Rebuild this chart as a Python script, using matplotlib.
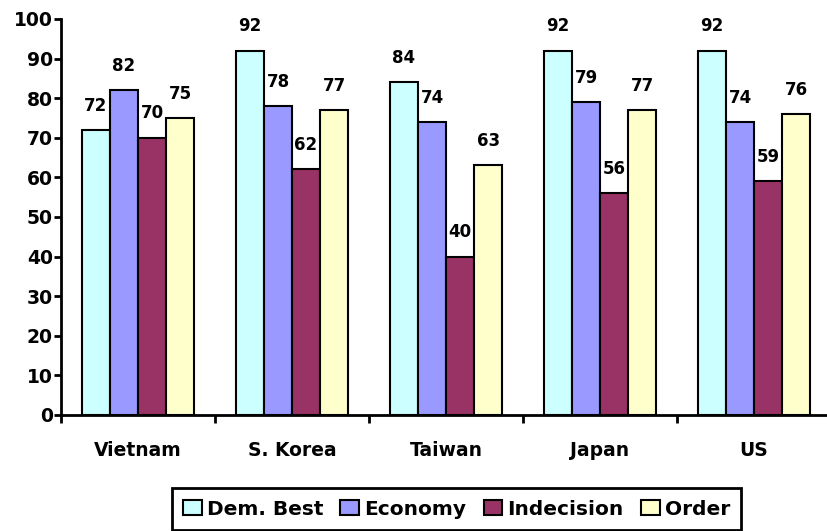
import matplotlib
matplotlib.use("Agg")
import matplotlib.pyplot as plt
import numpy as np

countries = ["Vietnam", "S. Korea", "Taiwan", "Japan", "US"]
series = ["Dem. Best", "Economy", "Indecision", "Order"]
dem_best = [72, 92, 84, 92, 92]
economy = [82, 78, 74, 79, 74]
indecision = [70, 62, 40, 56, 59]
order = [75, 77, 63, 77, 76]
colors = ["#CCFFFF", "#9999FF", "#993366", "#FFFFCC"]

plt.rcParams["font.family"] = ["DejaVu Sans"]
plt.rcParams["font.weight"] = "bold"

fig = plt.figure(figsize=(8.28, 5.31), dpi=100)
ax = fig.add_axes([0.0737, 0.2185, 0.930, 0.7458])

x = np.arange(len(countries))
w = 0.182
for i, (vals, c, name) in enumerate(zip([dem_best, economy, indecision, order], colors, series)):
    pos = x + (i - 1.5) * w
    ax.bar(pos, vals, w, color=c, edgecolor="black", linewidth=1.5, label=name)
    for p, v in zip(pos, vals):
        ax.annotate(str(v), (p, v), xytext=(0, 11), textcoords="offset points",
                    ha="center", va="bottom", fontsize=12, fontweight="bold")

ax.set_xlim(-0.5, 4.5)
ax.set_ylim(0, 100)
ax.set_yticks(range(0, 101, 10))
ax.tick_params(axis="y", labelsize=13.5, width=2, length=5, direction="out", pad=1)
ax.set_xticks(np.arange(-0.5, 4.5, 1.0))
ax.set_xticklabels([])
ax.set_xticks(x, minor=True)
ax.set_xticklabels(countries, minor=True)
ax.tick_params(axis="x", which="major", length=6, width=2, direction="out")
ax.tick_params(axis="x", which="minor", length=0, pad=19, labelsize=13.5)
for lab in ax.get_yticklabels() + ax.get_xticklabels(minor=True):
    lab.set_fontweight("bold")

for s in ["top", "right"]:
    ax.spines[s].set_visible(False)
ax.spines["left"].set_linewidth(2)
ax.spines["bottom"].set_linewidth(2)

leg = fig.legend(loc="center", bbox_to_anchor=(0.5513, 0.0414), ncol=4, frameon=True,
                 fancybox=False, edgecolor="black", framealpha=1, fontsize=14.5,
                 handlelength=0.93, handleheight=0.82, handletextpad=0.26, columnspacing=0.85,
                 borderpad=0.55)
leg.get_frame().set_linewidth(2)
for t in leg.get_texts():
    t.set_fontweight("bold")
for h in leg.legend_handles:
    h.set_linewidth(1.5)

fig.savefig("out.png", dpi=100)
